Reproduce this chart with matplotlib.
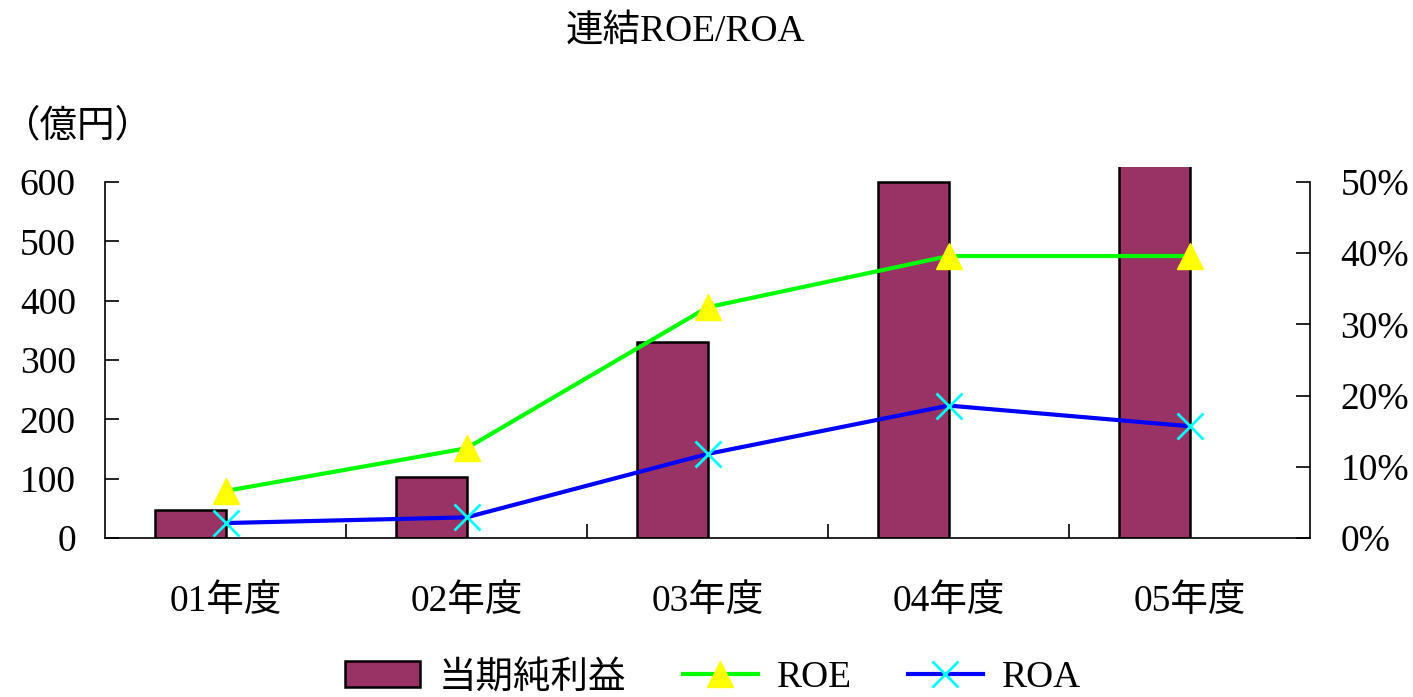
import matplotlib
matplotlib.use("Agg")
import matplotlib.pyplot as plt
from matplotlib.ticker import FixedLocator
import numpy as np

plt.rcParams['font.family'] = ['Liberation Serif', 'Noto Sans CJK JP']

categories = ['01年度', '02年度', '03年度', '04年度', '05年度']
net_income = [47, 102, 330, 600, 640]          # 億円 (05 extends beyond plot top)
roe = [6.6, 12.6, 32.4, 39.6, 39.6]            # %
roa = [2.1, 2.9, 11.8, 18.6, 15.7]             # %
left_ticks = [0, 100, 200, 300, 400, 500, 600]
right_ticks = [0, 10, 20, 30, 40, 50]

title = '連結ROE/ROA'
unit_label = '（億円）'
legend_labels = ['当期純利益', 'ROE', 'ROA']

W, H = 1413, 697
fig = plt.figure(figsize=(W / 100, H / 100), dpi=100)
ax = fig.add_axes([105 / W, 1 - 538 / H, (1310 - 105) / W, (538 - 167) / H])
ax2 = ax.twinx()

x = np.arange(len(categories))
fs = 27

bars = ax.bar(x - 0.145, net_income, width=0.295, color='#993366',
              edgecolor='black', linewidth=1.8, zorder=2)

ytop = 600 * (538 - 167) / (538 - 182)
ax.set_ylim(0, ytop)
ax.set_xlim(-0.5, len(categories) - 0.5)
ax2.set_ylim(0, 50 * ytop / 600)

l1, = ax2.plot(x, roe, color='#00ff00', lw=3, marker='^', markersize=19,
               markerfacecolor='yellow', markeredgecolor='yellow', zorder=3)
l2, = ax2.plot(x, roa, color='#0000ff', lw=3, marker='x', markersize=19,
               markeredgecolor='#00ffff', markeredgewidth=2, zorder=4)

for a in (ax, ax2):
    a.spines['top'].set_visible(False)
    a.patch.set_visible(False)

ax.spines['left'].set_bounds(0, 600)
ax2.spines['right'].set_bounds(0, 50)
ax2.spines['left'].set_visible(False)
ax2.spines['bottom'].set_visible(False)
for s in ('left', 'bottom'):
    ax.spines[s].set_linewidth(1.2)
ax2.spines['right'].set_linewidth(1.2)
ax.spines['right'].set_visible(False)

ax.set_yticks(left_ticks)
ax.set_yticklabels([str(v) for v in left_ticks])
ax.tick_params(axis='y', direction='in', length=10, width=1.2, pad=21, labelsize=fs)

ax2.set_yticks(right_ticks)
ax2.set_yticklabels([f'{v}%' for v in right_ticks])
ax2.tick_params(axis='y', direction='in', length=10, width=1.2, pad=22, labelsize=fs)

ax.set_xticks(x)
ax.set_xticklabels(categories)
ax.tick_params(axis='x', which='major', length=0, pad=33, labelsize=fs)
ax.xaxis.set_minor_locator(FixedLocator(x[:-1] + 0.5))
ax.tick_params(axis='x', which='minor', direction='in', length=10, width=1.2)

fig.text(685 / W, 1 - 31 / H, title, ha='center', va='center', fontsize=fs)
fig.text(3 / W, 1 - 127 / H, unit_label, ha='left', va='center', fontsize=fs)

fig.legend([bars, l1, l2], legend_labels, loc='center', ncol=3,
           bbox_to_anchor=(713 / W, 1 - 678 / H), frameon=False, fontsize=fs,
           handlelength=2.0, handletextpad=0.5, columnspacing=1.5,
           borderaxespad=0)

fig.savefig('out.png', dpi=100)
